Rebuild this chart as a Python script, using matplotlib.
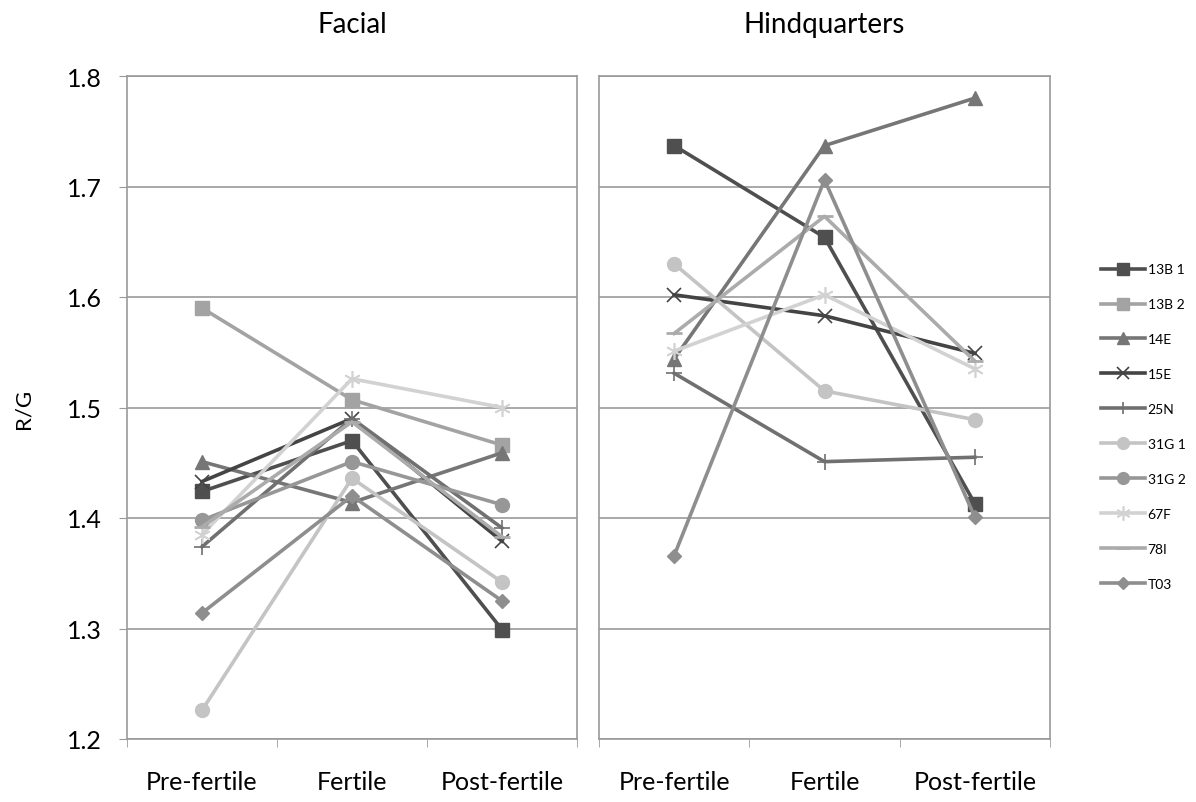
import numpy as np
import matplotlib
matplotlib.use("Agg")
import matplotlib.pyplot as plt

plt.rcParams['font.family'] = ['Lato', 'DejaVu Sans']

stages = ["Pre-fertile", "Fertile", "Post-fertile"]
panels = ["Facial", "Hindquarters"]
ids = ["13B 1", "13B 2", "14E", "15E", "25N", "31G 1", "31G 2", "67F", "78I", "T03"]

# R/G values (series missing from a panel are not listed)
facial = {
    "13B 1": [1.424, 1.470, 1.299],
    "13B 2": [1.590, 1.507, 1.466],
    "14E":   [1.451, 1.414, 1.459],
    "15E":   [1.433, 1.490, 1.379],
    "25N":   [1.374, 1.490, 1.391],
    "31G 1": [1.226, 1.436, 1.342],
    "31G 2": [1.398, 1.451, 1.412],
    "67F":   [1.385, 1.526, 1.500],
    "78I":   [1.392, 1.487, 1.383],
    "T03":   [1.314, 1.420, 1.325],
}
hind = {
    "13B 1": [1.737, 1.654, 1.413],
    "14E":   [1.544, 1.737, 1.780],
    "15E":   [1.602, 1.583, 1.549],
    "25N":   [1.531, 1.451, 1.455],
    "31G 1": [1.630, 1.515, 1.489],
    "67F":   [1.551, 1.602, 1.535],
    "78I":   [1.567, 1.673, 1.542],
    "T03":   [1.366, 1.706, 1.401],
}

style = {
    "13B 1": dict(color="#4f4f4f", marker="s", ms=10),
    "13B 2": dict(color="#a3a3a3", marker="s", ms=10),
    "14E":   dict(color="#767676", marker="^", ms=10),
    "15E":   dict(color="#444444", marker="x", ms=10, mew=1.2),
    "25N":   dict(color="#707070", marker="+", ms=11, mew=1.2),
    "31G 1": dict(color="#c4c4c4", marker="o", ms=10),
    "31G 2": dict(color="#979797", marker="o", ms=10),
    "67F":   dict(color="#d2d2d2", marker=(6, 2, 0), ms=12, mew=1.2),
    "78I":   dict(color="#ababab", marker="_", ms=12, mew=2),
    "T03":   dict(color="#8e8e8e", marker="D", ms=7),
}

fig = plt.figure(figsize=(11.96, 8.03), dpi=100)
ax1 = fig.add_axes([127/1196, 1-740/803, 450/1196, 663/803])
ax2 = fig.add_axes([599/1196, 1-740/803, 451/1196, 663/803])

x = np.arange(len(stages))
for ax, data, title in [(ax1, facial, panels[0]), (ax2, hind, panels[1])]:
    for k in ids:
        if k not in data:
            continue
        s = style[k]
        ax.plot(x, data[k], color=s["color"], lw=2.6, marker=s["marker"],
                ms=s["ms"], mew=s.get("mew", 1), label=k, zorder=3)
    ax.set_xlim(-0.5, 2.5)
    ax.set_ylim(1.2, 1.8)
    ax.set_yticks(np.arange(1.2, 1.81, 0.1))
    ax.yaxis.grid(True, color="#9a9a9a", lw=1.2)
    ax.set_axisbelow(True)
    for sp in ax.spines.values():
        sp.set_color("#9a9a9a")
        sp.set_linewidth(1.2)
    ax.set_xticks(x)
    ax.set_xticklabels(stages, fontsize=18)
    ax.set_xticks([-0.5, 0.5, 1.5, 2.5], minor=True)
    ax.tick_params(axis="x", which="major", length=0, pad=22)
    ax.tick_params(axis="x", which="minor", length=6, color="#9a9a9a")
    ax.set_title(title, fontsize=20, pad=32)

ax1.set_yticklabels(["%.1f" % v for v in np.arange(1.2, 1.81, 0.1)], fontsize=18)
ax1.tick_params(axis="y", length=6, color="#9a9a9a", pad=12)
ax2.tick_params(axis="y", length=0, labelleft=False)
ax1.set_ylabel("R/G", fontsize=16, labelpad=24)

handles = [plt.Line2D([], [], color=style[k]["color"], lw=2.6, marker=style[k]["marker"],
                      ms=style[k]["ms"] * 0.85, mew=style[k].get("mew", 1)) for k in ids]
fig.legend(handles, ids, loc="upper left", bbox_to_anchor=(1088/1196, 1-252/803),
           frameon=False, fontsize=10, labelspacing=1.65, handlelength=3.2,
           handletextpad=0.2)

fig.savefig("out.png", dpi=100)
